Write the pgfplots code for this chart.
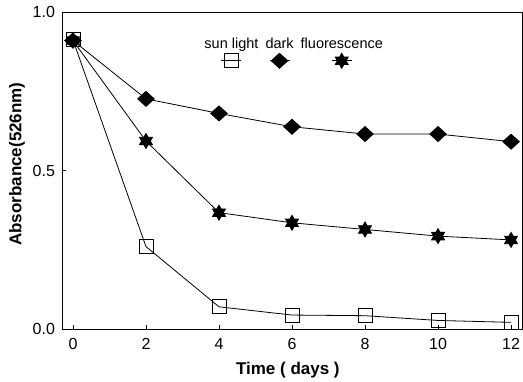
\documentclass[border=0pt]{standalone}
\usepackage{fontspec}
\setmainfont{Liberation Sans}
\usepackage{pgfplots}
\pgfplotsset{compat=1.18}
\pgfdeclareplotmark{hexstar}{%
 \pgfpathmoveto{\pgfqpointpolar{90}{\pgfplotmarksize}}%
 \pgfpathlineto{\pgfqpointpolar{210}{\pgfplotmarksize}}%
 \pgfpathlineto{\pgfqpointpolar{330}{\pgfplotmarksize}}%
 \pgfpathclose
 \pgfpathmoveto{\pgfqpointpolar{270}{\pgfplotmarksize}}%
 \pgfpathlineto{\pgfqpointpolar{30}{\pgfplotmarksize}}%
 \pgfpathlineto{\pgfqpointpolar{150}{\pgfplotmarksize}}%
 \pgfpathclose
 \pgfusepathqfillstroke}
\pgfdeclareplotmark{mydiamond}{%
 \pgfpathmoveto{\pgfqpoint{1.1\pgfplotmarksize}{0pt}}%
 \pgfpathlineto{\pgfqpoint{0pt}{\pgfplotmarksize}}%
 \pgfpathlineto{\pgfqpoint{-1.1\pgfplotmarksize}{0pt}}%
 \pgfpathlineto{\pgfqpoint{0pt}{-\pgfplotmarksize}}%
 \pgfpathclose
 \pgfusepathqfillstroke}
\begin{document}
\begin{tikzpicture}
\begin{axis}[
  scale only axis, width=460pt, height=317pt,
  xmin=-0.3, xmax=12.3, ymin=0, ymax=1,
  xtick={0,2,4,6,8,10,12}, ytick={0,0.5,1},
  tick align=inside, tick pos=left, major tick length=4pt,
  axis line style={line width=0.9pt},
  every tick/.style={black, line width=0.7pt},
  ticklabel style={font=\fontsize{16}{18}\selectfont},
  /pgf/number format/assume math mode=true,
  yticklabel style={xshift=-3.5pt, /pgf/number format/.cd, fixed, fixed zerofill, precision=1},
  xticklabel style={yshift=-6pt},
  xlabel={Time ( days )}, ylabel={Absorbance(526nm)},
  label style={font=\bfseries\fontsize{17}{20}\selectfont},
  xlabel style={at={(rel axis cs:0.491,-0.145)}, anchor=base},
  ylabel style={at={(rel axis cs:-0.098,0.52)}, anchor=center},
  legend columns=3,
  legend style={draw=none, fill=none, inner sep=0pt, at={(0.305,0.924)}, anchor=north west,
    font=\fontsize{14.5}{16}\selectfont, cells={anchor=base west, inner sep=2pt},
    /tikz/every even column/.append style={column sep=3pt}},
  every axis plot/.append style={black, line width=0.8pt},
]
\addplot[mark=square, mark size=7pt,
  legend image code/.code={\draw[overlay, mark repeat=2, mark phase=2] plot coordinates {(19pt,-12pt)(29pt,-12pt)(39pt,-12pt)};}]
  coordinates {(0,0.912) (2,0.26) (4,0.07) (6,0.044) (8,0.042) (10,0.027) (12,0.021)};
\addlegendentry{sun light}
\addplot[mark=mydiamond, mark size=7.5pt, mark options={fill=black},
  legend image code/.code={\draw[overlay, mark repeat=2, mark phase=2] plot coordinates {(6pt,-12pt)(16pt,-12pt)(26pt,-12pt)};}]
  coordinates {(0,0.91) (2,0.726) (4,0.68) (6,0.638) (8,0.615) (10,0.615) (12,0.591)};
\addlegendentry{dark}
\addplot[mark=hexstar, mark size=7.5pt, mark options={fill=black},
  legend image code/.code={\draw[overlay, mark repeat=2, mark phase=2] plot coordinates {(33pt,-12pt)(43pt,-12pt)(53pt,-12pt)};}]
  coordinates {(0,0.91) (2,0.593) (4,0.367) (6,0.335) (8,0.314) (10,0.293) (12,0.281)};
\addlegendentry{fluorescence}
\end{axis}
\pgfresetboundingbox
\path ([shift={(-62pt,-52pt)}]current axis.south west) rectangle ([shift={(461pt,329pt)}]current axis.south west);
\end{tikzpicture}
\end{document}
